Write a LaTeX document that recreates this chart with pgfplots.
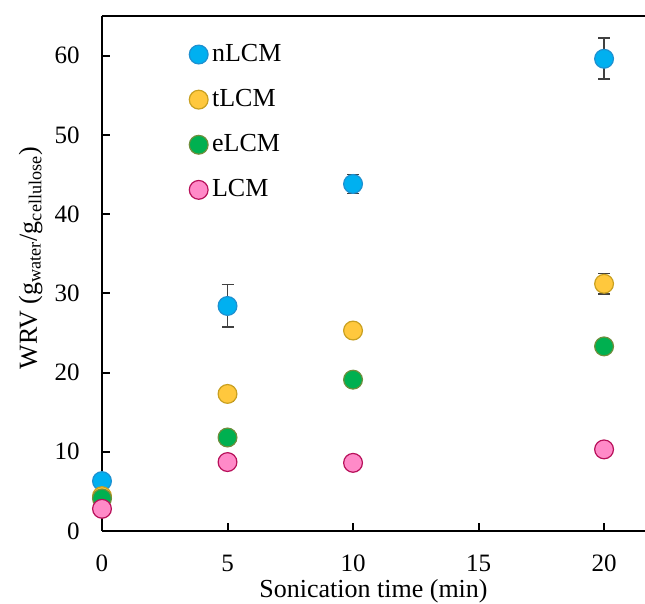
\documentclass[border=0pt]{standalone}
\usepackage{pgfplots}
\pgfplotsset{compat=1.18}
\usepackage{fontspec}
\setmainfont{Liberation Serif}
\definecolor{nfill}{HTML}{00B0F0}
\definecolor{ndraw}{HTML}{1E90D0}
\definecolor{tfill}{HTML}{FFC83D}
\definecolor{tdraw}{HTML}{C9A020}
\definecolor{efill}{HTML}{00B050}
\definecolor{edraw}{HTML}{6E8E3C}
\definecolor{lfill}{HTML}{FF8AC8}
\definecolor{ldraw}{HTML}{B8105A}
\definecolor{errc}{HTML}{404040}
\begin{document}
\fontsize{13}{15.6}\selectfont
\begin{tikzpicture}
\begin{axis}[
  name=ax,
  scale only axis,
  width=271.5pt, height=257.5pt,
  xmin=0, xmax=21.63, ymin=0, ymax=65,
  axis x line*=bottom, axis y line*=left,
  axis line style={-, line width=1pt, black},
  xtick={0,5,10,15,20}, ytick={0,10,20,30,40,50,60},
  tick align=inside, major tick length=4pt,
  tick style={line width=1pt, black},
  /pgf/number format/assume math mode=true,
  tick label style={font=\fontsize{12.5}{15}\selectfont},
  xticklabel style={inner ysep=0.5pt, yshift=-11.2pt},
  yticklabel style={xshift=-6.7pt},
  xlabel={Sonication time (min)},
  xlabel style={at={(axis description cs:0.5,0)}, anchor=base, yshift=-33.2pt, inner sep=0pt},
  ylabel={WRV (g\textsubscript{water}/g\textsubscript{cellulose})},
  ylabel style={at={(axis description cs:-0.1197,0.53)}, anchor=base, rotate=0},
  clip=false,
  legend style={at={(axis description cs:0.149,0.962)}, anchor=north west, draw=none, fill=none, row sep=8pt, font=\fontsize{13}{15.6}\selectfont},
  legend cell align=left,
  legend image code/.code={\draw[#1] plot coordinates {(3pt,0pt)};},
  error bars/y dir=both, error bars/y explicit,
  error bars/error bar style={color=errc, line width=0.9pt},
  error bars/error mark options={rotate=90, mark size=3pt, line width=0.9pt, color=errc},
]
\addplot[only marks, mark=*, mark size=4.7pt, mark options={fill=nfill, draw=ndraw, line width=0.6pt}]
  coordinates {(0,6.3) +- (0,0.3) (5,28.4) +- (0,2.7) (10,43.8) +- (0,1.2) (20,59.6) +- (0,2.6)};
\addlegendentry{nLCM}
\addplot[only marks, mark=*, mark size=4.7pt, mark options={fill=tfill, draw=tdraw, line width=0.6pt}]
  coordinates {(0,4.4) +- (0,0.2) (5,17.3) +- (0,0.9) (10,25.3) +- (0,0.5) (20,31.2) +- (0,1.3)};
\addlegendentry{tLCM}
\addplot[only marks, mark=*, mark size=4.7pt, mark options={fill=efill, draw=edraw, line width=0.6pt}]
  coordinates {(0,4.1) +- (0,0.3) (5,11.8) +- (0,0.5) (10,19.1) +- (0,0.9) (20,23.3) +- (0,0.6)};
\addlegendentry{eLCM}
\addplot[only marks, mark=*, mark size=4.7pt, mark options={fill=lfill, draw=ldraw, line width=0.6pt}]
  coordinates {(0,2.8) +- (0,0.2) (5,8.7) +- (0,0.3) (10,8.6) +- (0,0.3) (20,10.3) +- (0,0.4)};
\addlegendentry{LCM}
\draw[line width=1pt, black] (rel axis cs:0,1) -- (rel axis cs:1,1);
\end{axis}
\pgfresetboundingbox
\path ([shift={(-51pt,-36.5pt)}]ax.south west) rectangle ([shift={(0pt,265.5pt)}]ax.south east);
\end{tikzpicture}
\end{document}
